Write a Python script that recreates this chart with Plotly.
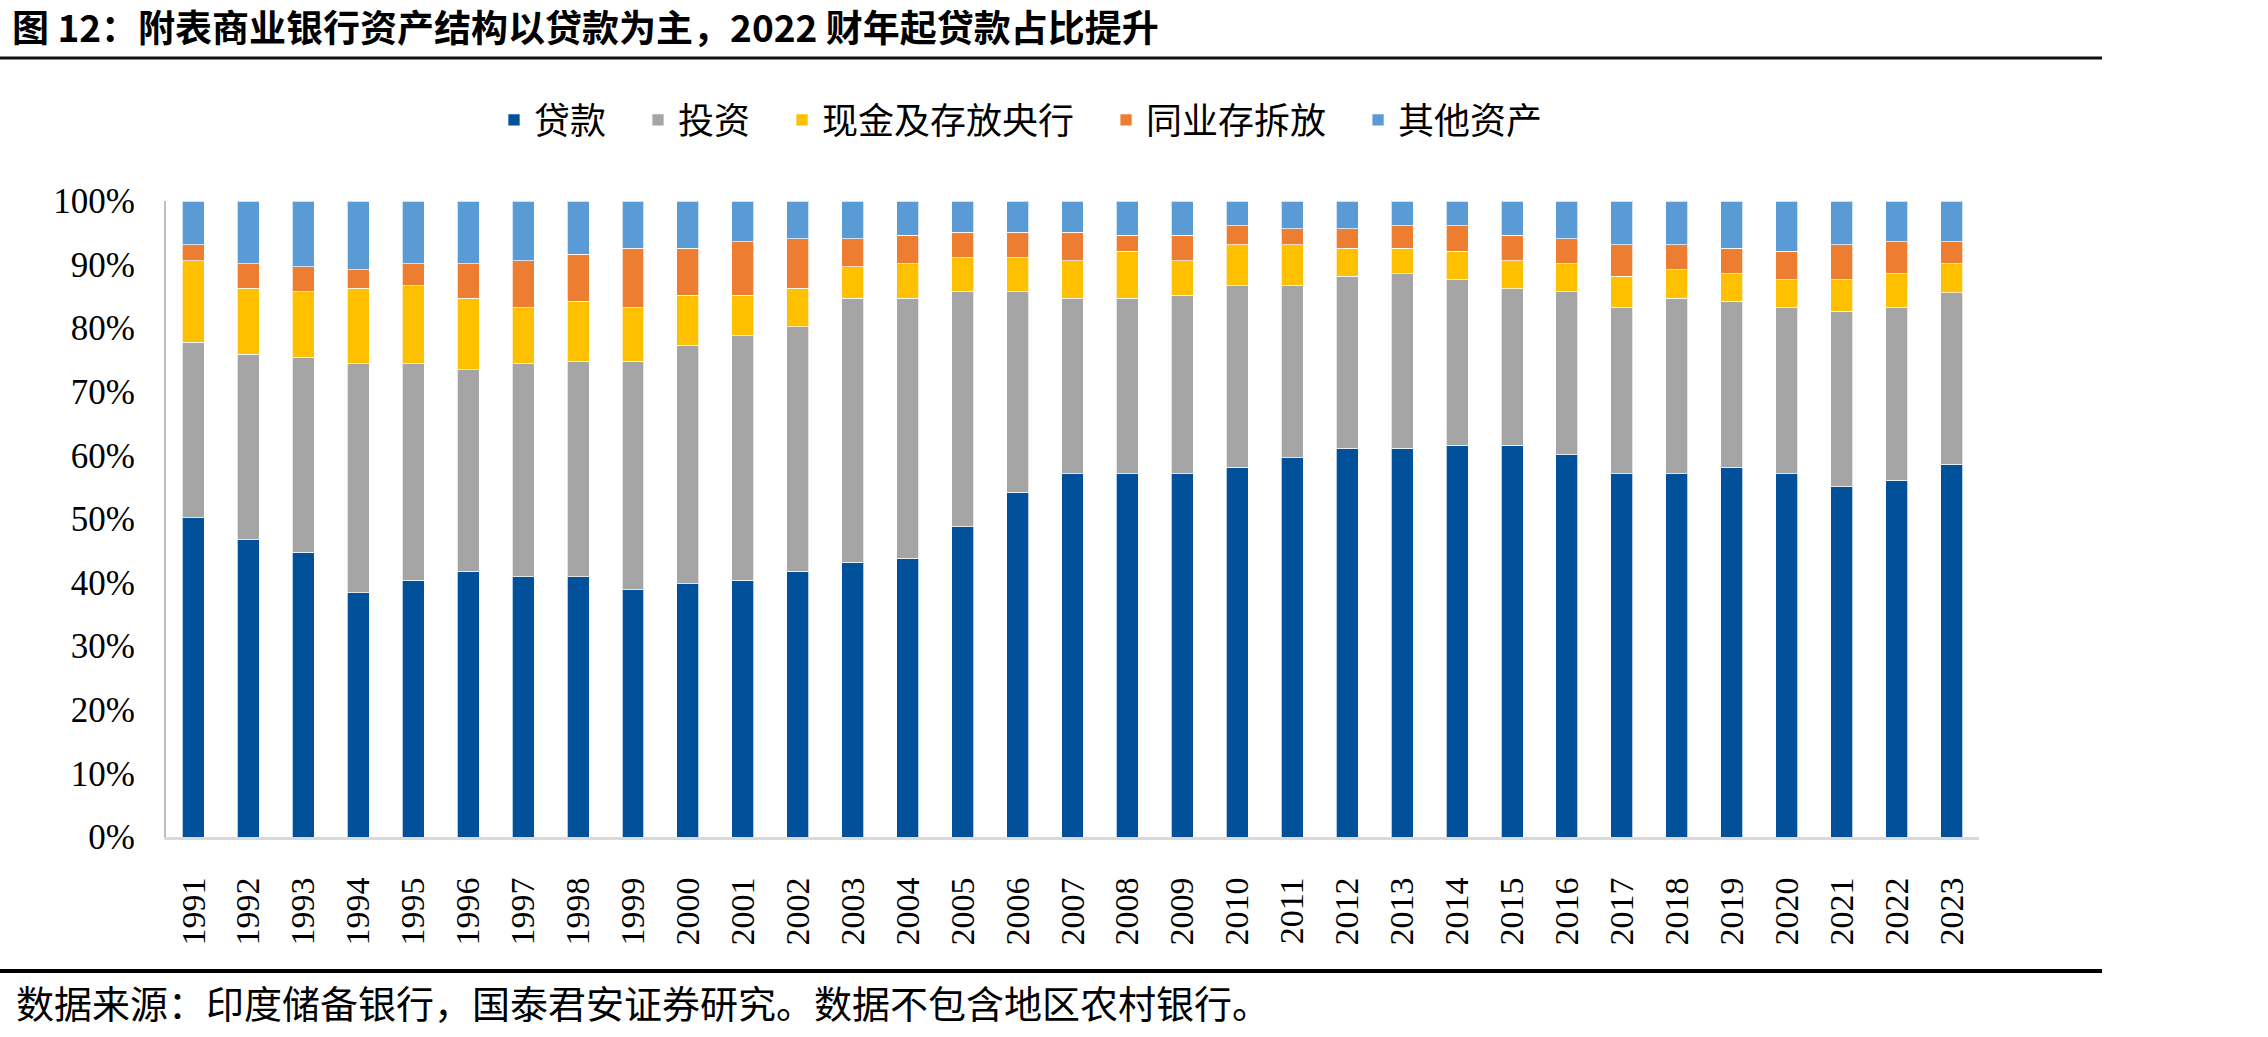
import plotly.graph_objects as go

years = [str(y) for y in range(1991, 2024)]

loans = [50.2, 46.7, 44.8, 38.4, 40.4, 41.8, 40.9, 40.9, 38.9, 39.8, 40.4,
         41.8, 43.2, 43.8, 48.8, 54.2, 57.1, 57.1, 57.1, 58.1, 59.6, 61.1,
         61.1, 61.6, 61.6, 60.1, 57.1, 57.1, 58.1, 57.1, 55.1, 56.1, 58.6]
investments = [27.6, 29.2, 30.6, 36.0, 34.0, 31.7, 33.5, 33.9, 35.9, 37.5, 38.4,
               38.4, 41.5, 40.9, 36.9, 31.5, 27.6, 27.6, 28.1, 28.6, 27.1, 27.1,
               27.5, 26.0, 24.6, 25.6, 26.1, 27.6, 26.1, 26.1, 27.6, 27.1, 27.0]
cash_rbi = [12.8, 10.4, 10.3, 11.9, 12.3, 11.2, 8.8, 9.4, 8.4, 7.9, 6.4,
            6.1, 5.0, 5.4, 5.4, 5.4, 5.9, 7.4, 5.4, 6.4, 6.4, 4.4,
            4.0, 4.5, 4.4, 4.4, 5.0, 4.5, 4.4, 4.4, 4.9, 5.4, 4.5]
interbank = [2.5, 3.8, 4.0, 2.9, 3.4, 5.4, 7.4, 7.4, 9.4, 7.4, 8.4,
             7.8, 4.4, 4.5, 4.0, 4.0, 4.5, 2.5, 4.0, 3.0, 2.5, 3.0,
             3.5, 4.0, 4.0, 4.0, 4.9, 3.9, 4.0, 4.5, 5.5, 5.0, 3.5]
other_assets = [6.9, 9.9, 10.3, 10.8, 9.9, 9.9, 9.4, 8.4, 7.4, 7.4, 6.4,
                5.9, 5.9, 5.4, 4.9, 4.9, 4.9, 5.4, 5.4, 3.9, 4.4, 4.4,
                3.9, 3.9, 5.4, 5.9, 6.9, 6.9, 7.4, 7.9, 6.9, 6.4, 6.4]

series_names = ["贷款", "投资", "现金及存放央行", "同业存拆放", "其他资产"]
series_values = [loans, investments, cash_rbi, interbank, other_assets]
series_colors = ["#00509A", "#A5A5A5", "#FFC000", "#ED7D31", "#5B9BD5"]

y_tickvals = [0, 10, 20, 30, 40, 50, 60, 70, 80, 90, 100]
y_ticktext = [f"{v}%" for v in y_tickvals]

title_text = "图 12：附表商业银行资产结构以贷款为主，2022 财年起贷款占比提升"
source_text = "数据来源：印度储备银行，国泰君安证券研究。数据不包含地区农村银行。"

W, H = 2268, 1037
L, R, T, B = 166, 1979, 201, 837  # plot area in pixels


def px_x(x):
    return (x - L) / (R - L)


def px_y(y):
    return (B - y) / (B - T)


CJK = "Noto Sans CJK SC"
SERIF = "Liberation Serif, Times New Roman, serif"
LEGEND_PAD = "\u2002\u2005"  # extra spacing between legend entries

fig = go.Figure()
for name, vals, col in zip(series_names, series_values, series_colors):
    fig.add_trace(go.Bar(
        x=years, y=vals, name=name + LEGEND_PAD,
        marker=dict(color=col, line=dict(color="rgba(255,255,255,0.7)", width=1)),
    ))

fig.update_layout(
    width=W, height=H, autosize=False,
    barmode="stack", bargap=0.6,
    plot_bgcolor="white", paper_bgcolor="white",
    margin=dict(l=L, r=W - R, t=T, b=H - B, pad=0),
    showlegend=True,
    legend=dict(
        orientation="h", traceorder="normal",
        x=px_x(494), xanchor="left",
        y=px_y(120), yanchor="middle",
        font=dict(family=CJK, size=36, color="black"),
        itemwidth=30,
    ),
    xaxis=dict(
        type="category", showgrid=False, zeroline=False,
        showline=True, linecolor="#D9D9D9", linewidth=3,
        ticks="", tickangle=-90,
        tickfont=dict(family=SERIF, size=34, color="black"),
        ticklabelstandoff=24,
    ),
    yaxis=dict(
        range=[0, 100], showgrid=False, zeroline=False,
        showline=True, linecolor="#BFBFBF", linewidth=2,
        tickvals=y_tickvals, ticktext=y_ticktext, ticks="",
        tickfont=dict(family=SERIF, size=35, color="black"),
        ticklabelstandoff=22,
    ),
    title=dict(
        text=title_text, xref="container", yref="container",
        x=12 / W, xanchor="left", y=1 - 29 / H, yanchor="middle",
        font=dict(family=CJK, size=37, color="black", weight="bold"),
    ),
)

fig.add_annotation(
    text=source_text, xref="paper", yref="paper",
    x=px_x(14), xanchor="left", y=px_y(1001), yanchor="middle",
    showarrow=False, font=dict(family=CJK, size=38, color="black"),
)

fig.add_shape(type="line", xref="paper", yref="paper",
              x0=px_x(0), x1=px_x(2102), y0=px_y(58), y1=px_y(58),
              line=dict(color="#111111", width=3))
fig.add_shape(type="line", xref="paper", yref="paper",
              x0=px_x(0), x1=px_x(2102), y0=px_y(971), y1=px_y(971),
              line=dict(color="#000000", width=4))

fig.write_html("out.html")
